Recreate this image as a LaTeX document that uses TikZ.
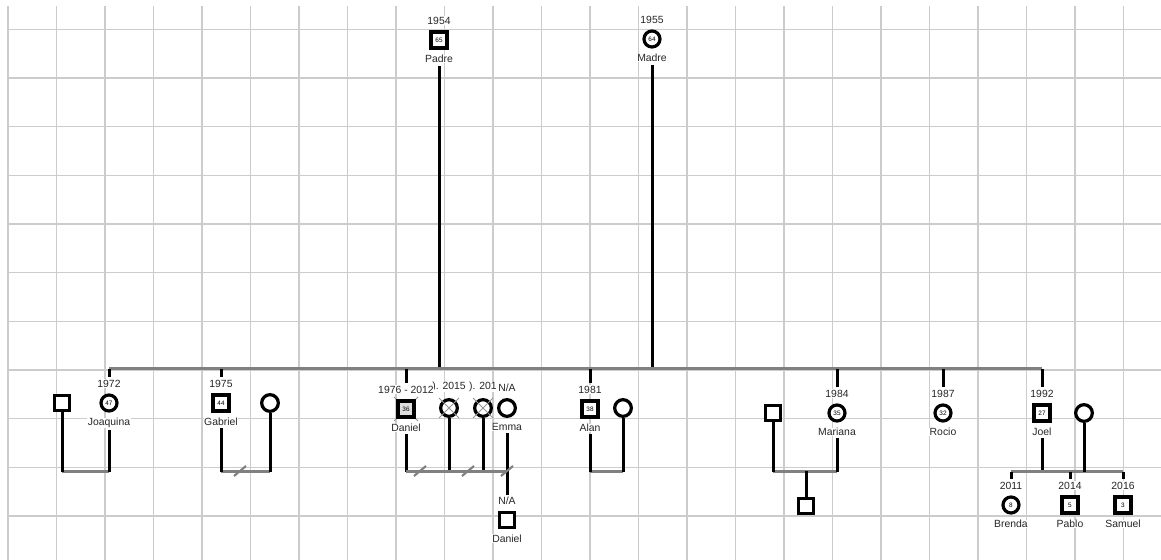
\documentclass[tikz,border=0pt]{standalone}
\usepackage{fontspec}
\setmainfont{Liberation Sans}
\usetikzlibrary{positioning, calc}
\definecolor{gridgray}{RGB}{204,204,204}
\definecolor{bargray}{RGB}{128,128,128}
\definecolor{markgray}{RGB}{150,150,150}

\begin{document}
\begin{tikzpicture}[
  x=0.75pt, y=-0.75pt,
  node distance=4pt,
  gridline/.style={line width=0.8pt, gridgray},
  person/.style={draw, line width=2.4pt, fill=white, inner sep=0pt, minimum size=12pt, font=\fontsize{4.8}{5}\selectfont},
  male/.style={person, rectangle},
  female/.style={person, circle},
  partnerm/.style={person, rectangle, minimum size=11.5pt},
  partnerf/.style={person, circle, minimum size=12.5pt},
  lbl/.style={font=\fontsize{7.8}{9}\selectfont, inner sep=0.4pt, fill=white, text=black!85},
  link/.style={line width=2.25pt},
  bar/.style={line width=2.25pt, bargray},
  cut/.style={line width=1.6pt, bargray},
  xmark/.style={line width=0.6pt, markgray},
]
\fill[white] (0,0) rectangle (1161,560);
\useasboundingbox (0,0) rectangle (1161,560);

% grid
\foreach \i in {0,...,23}
  \draw[gridline] ({8+48.5*\i},6) -- ({8+48.5*\i},560);
\foreach \j in {0,...,10}
  \draw[gridline] (8,{29.3+48.67*\j}) -- (1161,{29.3+48.67*\j});

% parents
\node[male] (padre) at (439,40) {65};
\node[lbl, above=4pt of padre] (padre-y) {1954};
\node[lbl, below=3.5pt of padre] (padre-n) {Padre};
\node[female] (madre) at (652,39) {64};
\node[lbl, above=4pt of madre] (madre-y) {1955};
\node[lbl, below=3.5pt of madre] (madre-n) {Madre};

\coordinate (sib) at (0,368);

% children
\node[female] (joaquina) at (109,403) {47};
\node[lbl, above=4pt of joaquina] (joaquina-y) {1972};
\node[lbl, below=3.5pt of joaquina] (joaquina-n) {Joaquina};
\node[partnerm] (jq-sp) at (62,403) {};

\node[male] (gabriel) at (221,403) {44};
\node[lbl, above=4pt of gabriel] (gabriel-y) {1975};
\node[lbl, below=3.5pt of gabriel] (gabriel-n) {Gabriel};
\node[partnerf] (gb-sp) at (270,403) {};

\draw[xmark] (406,409) ++(-12,-12) -- ++(24,24);
\draw[xmark] (406,409) ++(12,-12) -- ++(-24,24);
\node[male, fill=gray!25] (daniel) at (406,409) {36};
\node[lbl, below=3.5pt of daniel] (daniel-n) {Daniel};
\node[partnerf] (dn-x1) at (449,408) {};
\node[partnerf] (dn-x2) at (483,408) {};
\foreach \p in {dn-x1, dn-x2} {
  \draw[xmark] (\p) ++(-10,-10) -- ++(20,20);
  \draw[xmark] (\p) ++(10,-10) -- ++(-20,20);
}
\node[lbl, above=4pt of dn-x1] (dn-x1-y) {). 2015};
\node[lbl, above=4pt of dn-x2] (dn-x2-y) {). 201};
\node[lbl, above=4pt of daniel] (daniel-y) {1976 - 2012};
\node[partnerf] (emma) at (507,408) {};
\node[lbl, above=4pt of emma] (emma-y) {N/A};
\node[lbl, below=3.5pt of emma] (emma-n) {Emma};
\node[partnerm] (dn-child) at (507,520) {};
\node[lbl, above=4pt of dn-child] (dn-child-y) {N/A};
\node[lbl, below=3.5pt of dn-child] (dn-child-n) {Daniel};

\node[male] (alan) at (590,409) {38};
\node[lbl, above=4pt of alan] (alan-y) {1981};
\node[lbl, below=3.5pt of alan] (alan-n) {Alan};
\node[partnerf] (al-sp) at (623,408) {};

\node[female] (mariana) at (837,413) {35};
\node[lbl, above=4pt of mariana] (mariana-y) {1984};
\node[lbl, below=3.5pt of mariana] (mariana-n) {Mariana};
\node[partnerm] (mr-sp) at (773,413) {};
\node[partnerm] (mr-child) at (806,506) {};

\node[female] (rocio) at (943,413) {32};
\node[lbl, above=4pt of rocio] (rocio-y) {1987};
\node[lbl, below=3.5pt of rocio] (rocio-n) {Rocio};

\node[male] (joel) at (1042,413) {27};
\node[lbl, above=4pt of joel] (joel-y) {1992};
\node[lbl, below=3.5pt of joel] (joel-n) {Joel};
\node[partnerf] (jl-sp) at (1084,413) {};

% grandchildren
\node[female] (brenda) at (1011,505) {8};
\node[lbl, above=4pt of brenda] (brenda-y) {2011};
\node[lbl, below=3.5pt of brenda] (brenda-n) {Brenda};
\node[male] (pablo) at (1070,505) {5};
\node[lbl, above=4pt of pablo] (pablo-y) {2014};
\node[lbl, below=3.5pt of pablo] (pablo-n) {Pablo};
\node[male] (samuel) at (1123,505) {3};
\node[lbl, above=4pt of samuel] (samuel-y) {2016};
\node[lbl, below=3.5pt of samuel] (samuel-n) {Samuel};

% parents down to the sibling line
\foreach \p in {padre-n, madre-n}
  \draw[link, shorten <=2pt] (\p.south) -- (\p.south |- sib);
\draw[bar] (joaquina |- sib) -- (joel |- sib);
\foreach \c in {joaquina, gabriel, daniel, alan, mariana, rocio, joel}
  \draw[link, shorten >=1.5pt] ([yshift=-1pt]\c-y.north |- sib) -- (\c-y.north);

% couples
\coordinate (cpl) at (0,471);
\foreach \a/\b in {jq-sp/joaquina, gabriel/gb-sp, alan/al-sp, mr-sp/mariana} {
  \draw[bar] (\a |- cpl) -- (\b |- cpl);
}
\foreach \p in {jq-sp, gb-sp, al-sp, mr-sp, dn-x1, dn-x2}
  \draw[link] (\p.south) -- ([yshift=-1pt]\p.south |- cpl);
\foreach \p in {joaquina-n, gabriel-n, alan-n, mariana-n, daniel-n, joel-n}
  \draw[link, shorten <=1pt] (\p.south) -- ([yshift=-1pt]\p.south |- cpl);
\draw[bar] (daniel |- cpl) -- (emma |- cpl);
\draw[link, shorten <=1pt, shorten >=1pt] (emma-n.south) -- (dn-child-y.north);
\coordinate (mr-mid) at (mr-child |- cpl);
\draw[link] (mr-mid) -- (mr-child.north);
\draw[bar] (brenda |- cpl) -- (samuel |- cpl);
\draw[link] (jl-sp.south) -- ([yshift=-1pt]jl-sp.south |- cpl);
\foreach \c in {brenda, pablo, samuel}
  \draw[link, shorten >=1.5pt] ([yshift=-1pt]\c-y.north |- cpl) -- (\c-y.north);

% separation marks
\foreach \x in {240, 420, 468, 507}
  \draw[cut] (\x,471) ++(-6,5) -- ++(12,-10);
\end{tikzpicture}
\end{document}
